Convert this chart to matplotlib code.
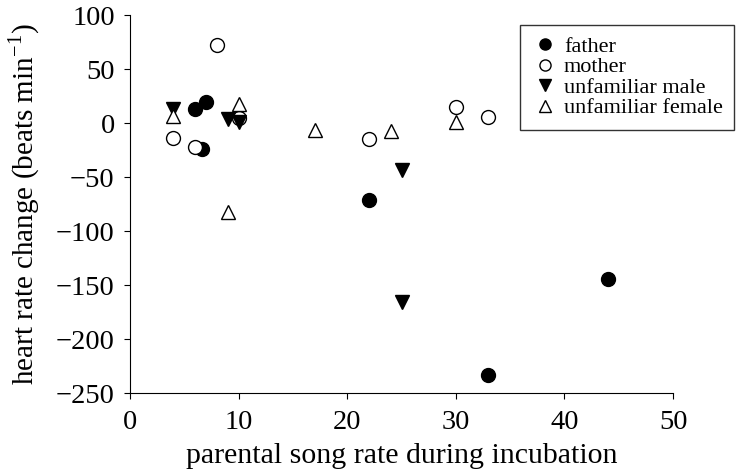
import numpy as np
import matplotlib
matplotlib.use("Agg")
import matplotlib.pyplot as plt

plt.rcParams['font.family'] = ['Liberation Serif', 'DejaVu Serif']
plt.rcParams['mathtext.fontset'] = 'custom'
plt.rcParams['mathtext.rm'] = 'Liberation Serif'

# data
father_x = [6, 7, 6.6, 22, 33, 44]
father_y = [13, 20, -24, -71, -233, -144]

mother_x = [8, 4, 6, 10, 22, 30, 33]
mother_y = [72, -14, -22, 5, -15, 15, 6]

umale_x = [4, 9, 10, 25, 25]
umale_y = [13, 4, 1, -43, -166]

ufemale_x = [4, 10, 9, 17, 24, 30]
ufemale_y = [7, 18, -82, -6, -7, 1]

fig = plt.figure(figsize=(7.45, 4.72), dpi=100)
ax = fig.add_axes([0.1745, 0.167, 0.729, 0.801])

ms = 10
ax.plot(father_x, father_y, 'o', ms=ms, color='black', mec='black', label='father')
ax.plot(mother_x, mother_y, 'o', ms=ms, mfc='white', mec='black', mew=1.0, label='mother')
ax.plot(umale_x, umale_y, 'v', ms=ms, color='black', mec='black', label='unfamiliar male')
ax.plot(ufemale_x, ufemale_y, '^', ms=ms, mfc='white', mec='black', mew=1.0, label='unfamiliar female')

ax.set_xlim(0, 50)
ax.set_ylim(-250, 100)
ax.set_xticks(np.arange(0, 51, 10))
ax.set_yticks(np.arange(-250, 101, 50))
ax.set_yticklabels([str(v).replace('-', '\u2212') for v in range(-250, 101, 50)])

for s in ['top', 'right']:
    ax.spines[s].set_visible(False)
ax.tick_params(direction='out', length=4, labelsize=20.5, width=0.8)
ax.tick_params(axis='x', pad=8)
ax.tick_params(axis='y', pad=7)

ax.set_xlabel('parental song rate during incubation', fontsize=21.5, labelpad=6)
ax.set_ylabel('heart rate change (beats min$^{\u22121}$)', fontsize=21, labelpad=10)

leg = ax.legend(loc='upper right', bbox_to_anchor=(1.112, 0.9735), fontsize=16,
                frameon=True, fancybox=False, edgecolor='black',
                handletextpad=0.2, labelspacing=0.0, borderpad=0.5,
                handlelength=1.3, markerscale=0.8, borderaxespad=0)
leg.get_frame().set_linewidth(1.0)

fig.savefig('out.png', dpi=100)
